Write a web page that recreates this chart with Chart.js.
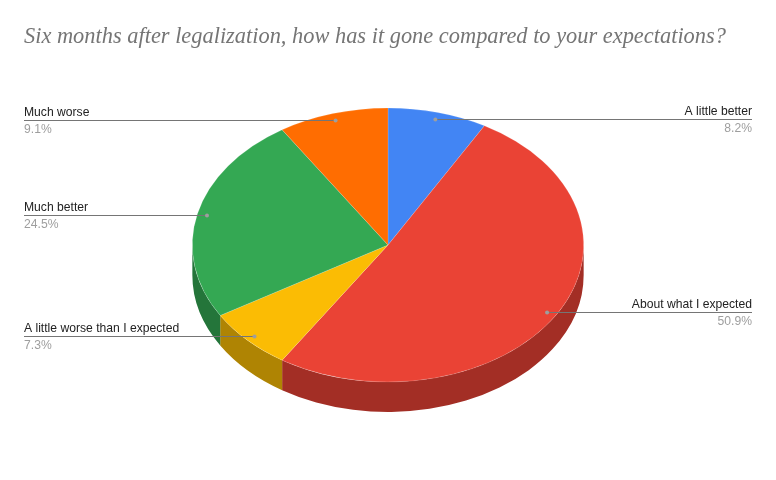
<!DOCTYPE html>
<html>
<head>
<meta charset="utf-8">
<style>
  html, body { margin: 0; padding: 0; background: #fff; }
  canvas { display: block; }
</style>
<script src="https://cdn.jsdelivr.net/npm/chart.js@4"></script>
</head>
<body>
<canvas id="pieChart" width="776" height="480"></canvas>
<script>
const chartTitle = 'Six months after legalization, how has it gone compared to your expectations?';
const categories = ['A little better', 'About what I expected', 'A little worse than I expected', 'Much better', 'Much worse'];
const percents = [8.2, 50.9, 7.3, 24.5, 9.1];
const topColors = ['#4285F4', '#EA4335', '#FBBC04', '#34A853', '#FF6D01'];
const sideColors = ['#2E5DAA', '#A32E25', '#AF8403', '#24753A', '#B24C01'];

const TILT = 0.7;   // vertical squash of the pie
const DEPTH = 30;   // height of the side wall

// squash everything the pie draws and put the wall underneath
const tiltPlugin = {
    id: 'tilt',
    beforeDatasetsDraw(chart) {
        const ctx = chart.ctx;
        const arcs = chart.getDatasetMeta(0).data;
        arcs.forEach((arc, i) => {
            const lo = Math.max(arc.startAngle, 0);
            const hi = Math.min(arc.endAngle, Math.PI);
            if (hi <= lo) return;
            const ry = arc.outerRadius * TILT;
            ctx.beginPath();
            ctx.ellipse(arc.x, arc.y, arc.outerRadius, ry, 0, lo, hi);
            ctx.ellipse(arc.x, arc.y + DEPTH, arc.outerRadius, ry, 0, hi, lo, true);
            ctx.closePath();
            ctx.fillStyle = sideColors[i];
            ctx.fill();
        });
        const cy = arcs[0].y;
        ctx.save();
        ctx.translate(0, cy);
        ctx.scale(1, TILT);
        ctx.translate(0, -cy);
    },
    afterDatasetsDraw(chart) {
        chart.ctx.restore();
    }
};

// leader lines with the name above and the percent below
const labelPlugin = {
    id: 'sideLabels',
    afterDraw(chart) {
        const ctx = chart.ctx;
        chart.getDatasetMeta(0).data.forEach((arc, i) => {
            const mid = (arc.startAngle + arc.endAngle) / 2;
            const r = arc.outerRadius * 0.95;
            const px = arc.x + Math.cos(mid) * r;
            const py = Math.round(arc.y + Math.sin(mid) * r * TILT) + 0.5;
            const right = px > arc.x;
            const edge = right ? 752 : 24;

            ctx.strokeStyle = '#757575';
            ctx.lineWidth = 1;
            ctx.beginPath();
            ctx.moveTo(edge, py);
            ctx.lineTo(px, py);
            ctx.stroke();

            ctx.fillStyle = '#9e9e9e';
            ctx.beginPath();
            ctx.arc(px, py, 2, 0, Math.PI * 2);
            ctx.fill();

            ctx.font = '12.15px "Liberation Sans", Arial, sans-serif';
            ctx.textAlign = right ? 'right' : 'left';
            ctx.textBaseline = 'alphabetic';
            ctx.fillStyle = '#222222';
            ctx.fillText(categories[i], edge, py - 4.5);
            ctx.fillStyle = '#9e9e9e';
            ctx.fillText(percents[i].toFixed(1) + '%', edge, py + 12.5);
        });
    }
};

new Chart(document.getElementById('pieChart'), {
    type: 'pie',
    data: {
        labels: categories,
        datasets: [{
            data: percents,
            backgroundColor: topColors,
            borderColor: 'rgba(255, 255, 255, 0.25)',
            borderWidth: 0.7
        }]
    },
    options: {
        responsive: false,
        animation: false,
        layout: {
            padding: { left: 24, right: 24, bottom: 39 }
        },
        plugins: {
            legend: { display: false },
            tooltip: { enabled: false },
            title: {
                display: true,
                text: chartTitle,
                align: 'start',
                color: '#757575',
                font: { family: '"Liberation Serif", Georgia, serif', style: 'italic', weight: 'normal', size: 22.4, lineHeight: 1 },
                padding: { top: 25.6, bottom: 1 }
            }
        }
    },
    plugins: [tiltPlugin, labelPlugin]
});
</script>
</body>
</html>
